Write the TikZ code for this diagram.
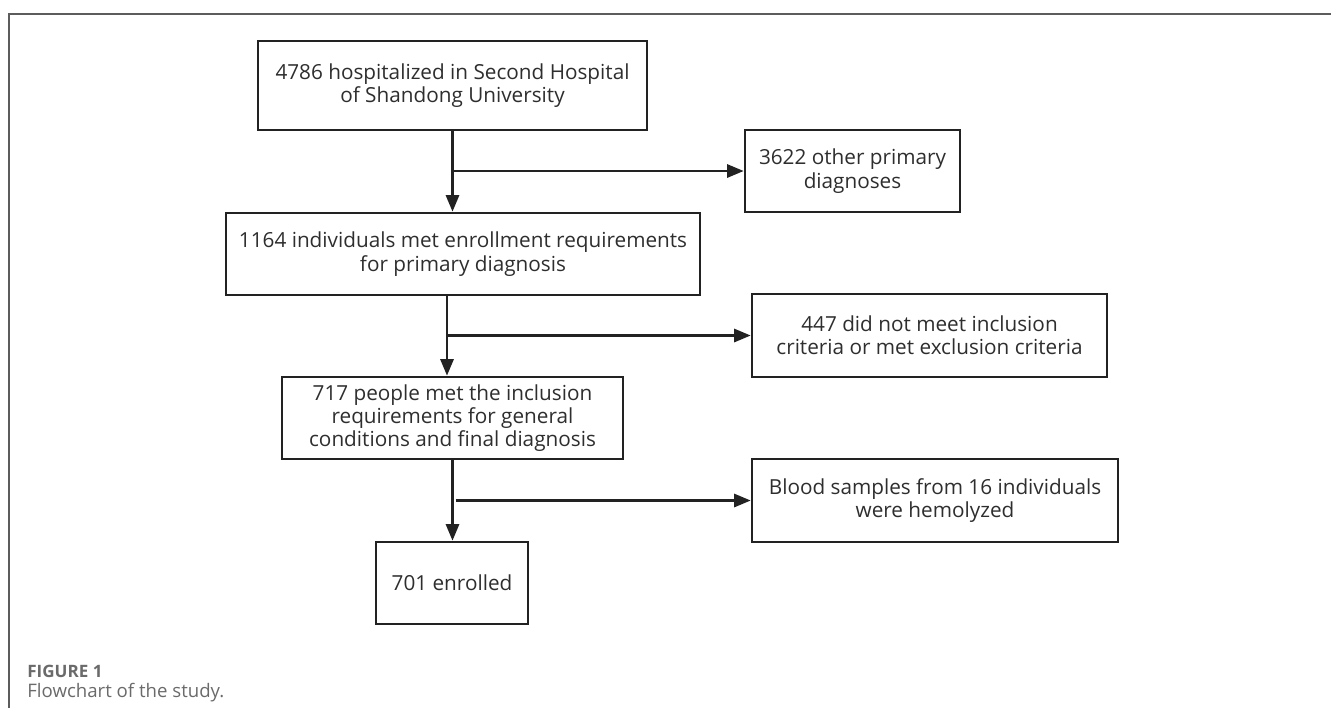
\documentclass[tikz,border=0pt]{standalone}
\usepackage{fontspec}
\setmainfont{Open Sans}
\usetikzlibrary{arrows.meta}
\definecolor{boxline}{HTML}{222222}
\definecolor{boxtext}{HTML}{2E2E2E}
\definecolor{framegray}{HTML}{5C5C5C}
\definecolor{capgray}{HTML}{6A6A6A}
\tikzset{
	flowbox/.style={draw=boxline, line width=1.5pt, align=center, inner sep=0pt,
		text=boxtext, font=\fontsize{11.8}{13.3}\selectfont},
	flowline/.style={draw=boxline, line width=1.5pt, -{Triangle[length=9.5pt,width=7.5pt]}},
	caption/.style={anchor=base west, inner sep=0pt, text=capgray}
}

\begin{document}
\begin{tikzpicture}[x=0.02cm, y=-0.02cm]
		\useasboundingbox (0,0) rectangle (1331,708);
		\draw[framegray, line width=0.6pt] (1331,14) -- (9,14) -- (9,708);
		% main column
		\node[flowbox, minimum width=7.78cm, minimum height=1.78cm] (hosp) at (452.5,85.5)
			{4786 hospitalized in Second Hospital\\of Shandong University};
		\node[flowbox, minimum width=9.48cm, minimum height=1.64cm] (met) at (463,254)
			{1164 individuals met enrollment requirements\\for primary diagnosis};
		\node[flowbox, minimum width=6.82cm, minimum height=1.64cm] (incl) at (452.5,418)
			{717 people met the inclusion\\requirements for general\\conditions and final diagnosis};
		\node[flowbox, minimum width=3.04cm, minimum height=1.64cm] (enrol) at (452,583)
			{701 enrolled};
		% side boxes
		\node[flowbox, minimum width=4.30cm, minimum height=1.64cm] (other) at (852.5,171)
			{3622 other primary\\diagnoses};
		\node[flowbox, minimum width=7.10cm, minimum height=1.66cm] (excl) at (929.5,335.5)
			{447 did not meet inclusion\\criteria or met exclusion criteria};
		\node[flowbox, minimum width=7.32cm, minimum height=1.66cm] (hemo) at (935,500.5)
			{Blood samples from 16 individuals\\were hemolyzed};
		% arrows
		\coordinate (drop) at ([xshift=-0.32cm]met.south);
		\draw[flowline] (hosp.south) -- (hosp.south |- met.north);
		\draw[flowline] (hosp.south |- other.west) -- (other.west);
		\draw[flowline] (drop) -- (drop |- incl.north);
		\draw[flowline] (drop |- excl.west) -- (excl.west);
		\draw[flowline] (incl.south) -- (incl.south |- enrol.north);
		\draw[flowline] ([xshift=0.06cm]incl.south |- hemo.west) -- (hemo.west);
		% caption
		\node[caption, font=\fontsize{9.7}{11}\selectfont\bfseries] (figno) at (27,677) {FIGURE 1};
		\node[caption, font=\fontsize{10.6}{12}\selectfont] (figcap) at (27,697) {Flowchart of the study.};
	\end{tikzpicture}
\end{document}
